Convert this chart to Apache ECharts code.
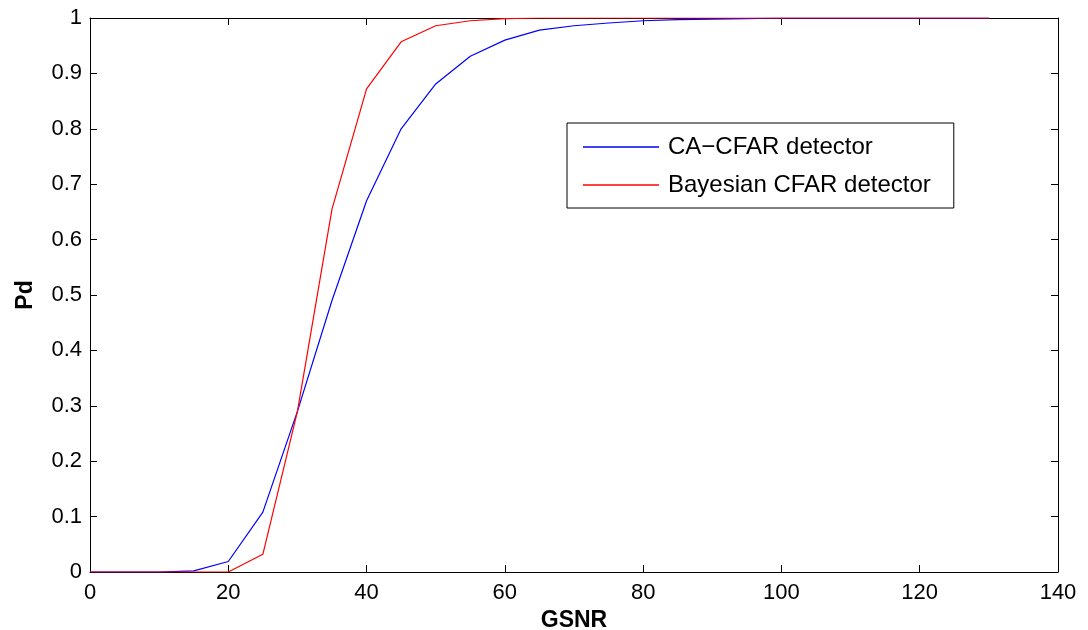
<!DOCTYPE html>
<html>
<head>
<meta charset="utf-8">
<script src="https://cdn.jsdelivr.net/npm/echarts@6/dist/echarts.min.js"></script>
<style>
  html, body { margin: 0; padding: 0; background: #fff; }
  #chart { width: 1088px; height: 630px; }
</style>
</head>
<body>
<div id="chart"></div>
<script>
// GSNR sample points
const gsnr = [0, 5, 10, 15, 20, 25, 30, 35, 40, 45, 50, 55, 60, 65, 70, 75, 80, 85, 90, 95, 100, 105, 110, 115, 120, 125, 130];
// detection probability
const caCfar = [0, 0, 0, 0.002, 0.019, 0.108, 0.29, 0.49, 0.670, 0.800, 0.881, 0.931, 0.960, 0.978, 0.986, 0.991, 0.995, 0.997, 0.998, 0.999, 1, 1, 1, 1, 1, 1, 1];
const bayesCfar = [0, 0, 0, 0, 0, 0.032, 0.29, 0.655, 0.872, 0.957, 0.986, 0.995, 0.999, 1, 1, 1, 1, 1, 1, 1, 1, 1, 1, 1, 1, 1, 1];

const font = 'Liberation Sans, Arial, Helvetica, sans-serif';

function pairs(ys) {
  return gsnr.map((x, i) => [x, ys[i]]);
}

function line() {
  return { show: true, onZero: false, lineStyle: { color: '#000', width: 1 } };
}
function tick() {
  return { show: true, inside: true, length: 7, lineStyle: { color: '#000', width: 1 } };
}

const chart = echarts.init(document.getElementById('chart'));

let option = {
  animation: false,
  backgroundColor: '#fff',
  grid: { left: 90, right: 30, top: 18, bottom: 58, containLabel: false, outerBoundsMode: 'none' },
  legend: {
    orient: 'vertical',
    left: 567,
    top: 123,
    padding: [12, 23, 11, 16],
    itemGap: 14,
    itemWidth: 76,
    itemHeight: 1.5,
    icon: 'rect',
    borderColor: '#000',
    borderWidth: 1,
    borderRadius: 0,
    backgroundColor: '#fff',
    textStyle: { fontFamily: font, fontSize: 24, color: '#000', lineHeight: 24, padding: [0, 0, 0, 4] },
    data: ['CA\u2212CFAR detector', 'Bayesian CFAR detector']
  },
  xAxis: [
    {
      type: 'value',
      min: 0,
      max: 140,
      interval: 20,
      name: 'GSNR',
      nameLocation: 'middle',
      nameGap: 37,
      nameTextStyle: { fontFamily: font, fontSize: 23, fontWeight: 'bold', color: '#000' },
      axisLine: line(),
      axisTick: tick(),
      splitLine: { show: false },
      axisLabel: { fontFamily: font, fontSize: 22, color: '#000', margin: 10 }
    },
    {
      type: 'value',
      position: 'top',
      min: 0,
      max: 140,
      interval: 20,
      axisLine: line(),
      axisTick: tick(),
      splitLine: { show: false },
      axisLabel: { show: false }
    }
  ],
  yAxis: [
    {
      type: 'value',
      min: 0,
      max: 1,
      interval: 0.1,
      name: 'Pd',
      nameLocation: 'middle',
      nameGap: 53,
      nameRotate: 90,
      nameTextStyle: { fontFamily: font, fontSize: 23, fontWeight: 'bold', color: '#000' },
      axisLine: line(),
      axisTick: tick(),
      splitLine: { show: false },
      axisLabel: {
        fontFamily: font, fontSize: 22, color: '#000', margin: 8,
        formatter: v => (Math.round(v * 10) / 10).toString()
      }
    },
    {
      type: 'value',
      position: 'right',
      min: 0,
      max: 1,
      interval: 0.1,
      axisLine: line(),
      axisTick: tick(),
      splitLine: { show: false },
      axisLabel: { show: false }
    }
  ],
  series: [
    {
      name: 'CA\u2212CFAR detector',
      type: 'line',
      data: pairs(caCfar),
      showSymbol: false,
      symbol: 'none',
      lineStyle: { color: '#0000ff', width: 1.2 },
      itemStyle: { color: '#0000ff' },
      z: 3
    },
    {
      name: 'Bayesian CFAR detector',
      type: 'line',
      data: pairs(bayesCfar),
      showSymbol: false,
      symbol: 'none',
      lineStyle: { color: '#ff0000', width: 1.2 },
      itemStyle: { color: '#ff0000' },
      z: 4
    }
  ]
};

chart.setOption(option);
</script>
</body>
</html>
